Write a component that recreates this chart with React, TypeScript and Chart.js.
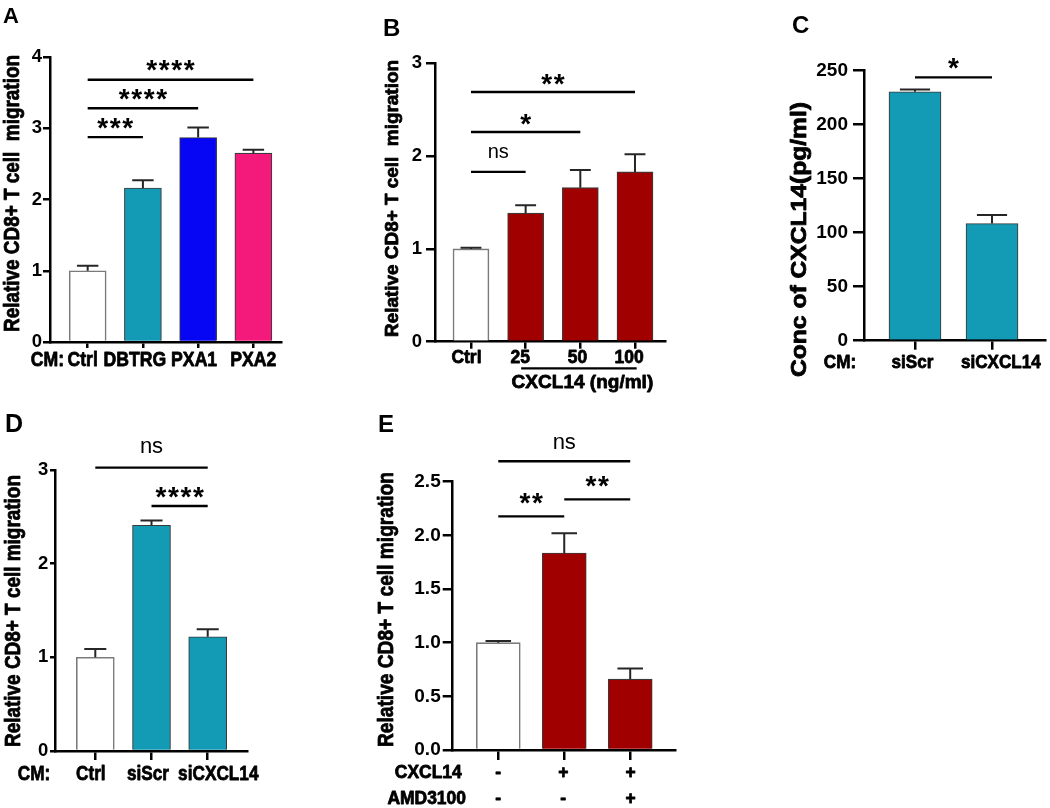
import React, { useEffect, useRef } from 'react';
import { Chart, registerables } from 'chart.js';

Chart.register(...registerables);

// ---------------- Data ----------------
type Sig = [number, number, number, string]; // from category, to category, bar level, label

// Panel A
const aCategories = ['Ctrl', 'DBTRG', 'PXA1', 'PXA2'];
const aMeans = [1.0, 2.16, 2.87, 2.65];
const aErrors = [0.07, 0.11, 0.14, 0.05];
const aSignificance: Sig[] = [
  [0, 1, 2.875, '***'],
  [0, 2, 3.28, '****'],
  [0, 3, 3.68, '****'],
];

// Panel B
const bCategories = ['Ctrl', '25', '50', '100'];
const bMeans = [1.0, 1.385, 1.66, 1.83];
const bErrors = [0.012, 0.085, 0.19, 0.19];
const bSignificance: Sig[] = [
  [0, 1, 1.83, 'ns'],
  [0, 2, 2.26, '*'],
  [0, 3, 2.69, '**'],
];

// Panel C
const cCategories = ['siScr', 'siCXCL14'];
const cMeans = [230.5, 108.5];
const cErrors = [2, 8];
const cSignificance: Sig[] = [[0, 1, 243.8, '*']];

// Panel D
const dCategories = ['Ctrl', 'siScr', 'siCXCL14'];
const dMeans = [1.0, 2.41, 1.22];
const dErrors = [0.09, 0.05, 0.08];
const dSignificance: Sig[] = [
  [0, 2, 3.025, 'ns'],
  [1, 2, 2.616, '****'],
];

// Panel E
const eCXCL14 = ['-', '+', '+'];
const eAMD3100 = ['-', '-', '+'];
const eMeans = [1.0, 1.835, 0.66];
const eErrors = [0.015, 0.185, 0.1];
const eSignificance: Sig[] = [
  [0, 1, 2.177, '**'],
  [1, 2, 2.335, '**'],
  [0, 2, 2.69, 'ns'],
];

// ---------------- Styles ----------------
const WHITE = '#FFFFFF';
const TEAL = '#139AB5';
const BLUE = '#0606F5';
const PINK = '#F41A7C';
const DARKRED = '#A00000';
const FAMILY = '"Liberation Sans", Arial, sans-serif';
const HEAVY = 0.8; // extra stroke to mimic the heavy figure lettering

interface XText { size: number; sx: number; capY: number; dx: number[]; rowGap: number }

interface PanelSpec {
  id: string;
  letter: string;
  letterAt: [number, number];
  letterSize: number;
  box: [number, number, number, number];
  area: [number, number, number, number];
  xRange: [number, number];
  labels: string[][];
  means: number[];
  errors: number[];
  colors: string[];
  barPx: number;
  yMax: number;
  yStep: number;
  yDec: number;
  yTitle: string;
  yTitleAt: [number, number];
  yTitleCap: number;
  yTitleLen: number;
  yTick: { len: number; pad: number; size: number };
  xTickLen: number;
  xText: XText;
  sigs: Sig[];
  starGap: number;
  nsGap: number;
  nsSize: number;
  rowTitles: { text: string; x: number; line: number }[];
  group?: { from: number; to: number; dxFrom: number; dxTo: number; lineY: number; text: string; textY: number; width: number; dxText: number };
}

const panels: PanelSpec[] = [
  {
    id: 'A', letter: 'A', letterAt: [3, 22.7], letterSize: 22,
    box: [0, 0, 292, 392], area: [50, 57, 281, 342], xRange: [-0.682, 3.5],
    labels: aCategories.map((c) => [c]), means: aMeans, errors: aErrors, colors: [WHITE, TEAL, BLUE, PINK],
    barPx: 37, yMax: 4, yStep: 1, yDec: 0,
    yTitle: 'Relative CD8+ T cell  migration', yTitleAt: [11.7, 193.5], yTitleCap: 15, yTitleLen: 277,
    yTick: { len: 7, pad: 1, size: 18.5 },
    xTickLen: 6,
    xText: { size: 21, sx: 0.84, capY: 359.2, dx: [-5, -8, -4, 0], rowGap: 0 },
    sigs: aSignificance, starGap: 14, nsGap: 19, nsSize: 20,
    rowTitles: [{ text: 'CM:', x: 47.5, line: 0 }],
  },
  {
    id: 'B', letter: 'B', letterAt: [383, 36], letterSize: 24,
    box: [378, 0, 300, 395], area: [435, 63.3, 665, 341.7], xRange: [-0.658, 3.549],
    labels: bCategories.map((c) => [c]), means: bMeans, errors: bErrors, colors: [WHITE, DARKRED, DARKRED, DARKRED],
    barPx: 36, yMax: 3, yStep: 1, yDec: 0,
    yTitle: 'Relative CD8+ T cell  migration', yTitleAt: [391.7, 198.5], yTitleCap: 13.5, yTitleLen: 277,
    yTick: { len: 9, pad: 4, size: 18.5 },
    xTickLen: 7,
    xText: { size: 19, sx: 0.92, capY: 356.7, dx: [-4.5, -5.4, -2.8, -5.8], rowGap: 0 },
    sigs: bSignificance, starGap: 12.5, nsGap: 19, nsSize: 20,
    rowTitles: [],
    group: { from: 1, to: 3, dxFrom: -4.5, dxTo: 1.7, lineY: 368.3, text: 'CXCL14 (ng/ml)', textY: 381.5, width: 141.6, dxText: 3.5 },
  },
  {
    id: 'C', letter: 'C', letterAt: [792, 33], letterSize: 24,
    box: [786, 0, 264, 395], area: [864, 70.7, 1045, 340.7], xRange: [-0.662, 1.688],
    labels: cCategories.map((c) => [c]), means: cMeans, errors: cErrors, colors: [TEAL, TEAL],
    barPx: 52, yMax: 250, yStep: 50, yDec: 0,
    yTitle: 'Conc of CXCL14(pg/ml)', yTitleAt: [798.3, 239.5], yTitleCap: 16, yTitleLen: 275,
    yTick: { len: 11, pad: 5, size: 19 },
    xTickLen: 9,
    xText: { size: 19, sx: 0.9, capY: 361.5, dx: [-2.5, 8.8], rowGap: 0 },
    sigs: cSignificance, starGap: 14, nsGap: 19, nsSize: 20,
    rowTitles: [{ text: 'CM:', x: 840, line: 0 }],
  },
  {
    id: 'D', letter: 'D', letterAt: [5, 432], letterSize: 25,
    box: [0, 400, 272, 408], area: [55, 470, 247, 751], xRange: [-0.717, 2.699],
    labels: dCategories.map((c) => [c]), means: dMeans, errors: dErrors, colors: [WHITE, TEAL, TEAL],
    barPx: 38, yMax: 3, yStep: 1, yDec: 0,
    yTitle: 'Relative CD8+ T cell migration', yTitleAt: [12.5, 611], yTitleCap: 15, yTitleLen: 272,
    yTick: { len: 5, pad: 1.7, size: 18.5 },
    xTickLen: 9,
    xText: { size: 21, sx: 0.82, capY: 772.5, dx: [-4.5, -3.5, 10.6], rowGap: 0 },
    sigs: dSignificance, starGap: 13, nsGap: 21, nsSize: 22,
    rowTitles: [{ text: 'CM:', x: 34, line: 0 }],
  },
  {
    id: 'E', letter: 'E', letterAt: [378, 432], letterSize: 24,
    box: [372, 400, 318, 408], area: [452.7, 481.7, 675, 750], xRange: [-0.691, 2.679],
    labels: eCXCL14.map((v, i) => [v, eAMD3100[i]]), means: eMeans, errors: eErrors,
    colors: [WHITE, DARKRED, DARKRED],
    barPx: 44, yMax: 2.5, yStep: 0.5, yDec: 1,
    yTitle: 'Relative CD8+ T cell migration', yTitleAt: [385, 609.5], yTitleCap: 15.5, yTitleLen: 275,
    yTick: { len: 10, pad: 2, size: 19 },
    xTickLen: 10,
    xText: { size: 18, sx: 0.97, capY: 771.7, dx: [0, -1, 0.5], rowGap: 25.3 },
    sigs: eSignificance, starGap: 18, nsGap: 18, nsSize: 22,
    rowTitles: [
      { text: 'CXCL14', x: 428.3, line: 0 },
      { text: 'AMD3100', x: 426.7, line: 1 },
    ],
  },
];

// ---------------- Drawing helpers ----------------
function centerBaseline(ctx: CanvasRenderingContext2D, text: string, cy: number) {
  const m = ctx.measureText(text);
  return cy + (m.actualBoundingBoxAscent - m.actualBoundingBoxDescent) / 2;
}

function heavyText(ctx: CanvasRenderingContext2D, text: string, x: number, y: number) {
  ctx.fillText(text, x, y);
  ctx.lineWidth = HEAVY;
  ctx.lineJoin = 'round';
  ctx.strokeText(text, x, y);
}

function drawStars(ctx: CanvasRenderingContext2D, n: number, cx: number, cy: number) {
  ctx.font = `bold 28px ${FAMILY}`;
  ctx.textAlign = 'center';
  ctx.textBaseline = 'alphabetic';
  const base = centerBaseline(ctx, '*', cy);
  const spacing = 12.5;
  for (let k = 0; k < n; k++) {
    ctx.fillText('*', cx + (k - (n - 1) / 2) * spacing, base);
  }
}

// text whose cap-height centre sits on capY, horizontally compressed by sx
function drawScaled(ctx: CanvasRenderingContext2D, text: string, x: number, capY: number, size: number, sx: number) {
  ctx.save();
  ctx.font = `bold ${size}px ${FAMILY}`;
  const capH = ctx.measureText('H').actualBoundingBoxAscent;
  ctx.translate(x, capY + capH / 2);
  ctx.scale(sx, 1);
  ctx.textAlign = 'center';
  ctx.textBaseline = 'alphabetic';
  heavyText(ctx, text, 0, 0);
  ctx.restore();
}

function capRatio(ctx: CanvasRenderingContext2D) {
  ctx.font = `bold 100px ${FAMILY}`;
  return ctx.measureText('H').actualBoundingBoxAscent / 100;
}

function makePlugin(p: PanelSpec) {
  const [bl, bt] = p.box;
  return {
    id: 'annot' + p.id,
    afterDatasetsDraw(chart: any) {
      const ctx: CanvasRenderingContext2D = chart.ctx;
      const ys = chart.scales.y;
      const meta = chart.getDatasetMeta(0);
      ctx.save();
      ctx.strokeStyle = '#262626';
      ctx.lineWidth = 2;
      meta.data.forEach((bar: any, i: number) => {
        const base = ys.getPixelForValue(p.means[i]);
        const top = ys.getPixelForValue(p.means[i] + p.errors[i]);
        const half = bar.width * 0.29;
        ctx.beginPath();
        ctx.moveTo(bar.x, base);
        ctx.lineTo(bar.x, top);
        ctx.moveTo(bar.x - half, top);
        ctx.lineTo(bar.x + half, top);
        ctx.stroke();
      });
      ctx.restore();
    },
    afterDraw(chart: any) {
      const ctx: CanvasRenderingContext2D = chart.ctx;
      const xs = chart.scales.x;
      const ys = chart.scales.y;
      ctx.save();
      ctx.fillStyle = '#000';
      ctx.strokeStyle = '#000';

      // significance bars
      for (const [from, to, level, text] of p.sigs) {
        const x1 = xs.getPixelForValue(from);
        const x2 = xs.getPixelForValue(to);
        const y = ys.getPixelForValue(level);
        ctx.lineWidth = 2.4;
        ctx.beginPath();
        ctx.moveTo(x1, y);
        ctx.lineTo(x2, y);
        ctx.stroke();
        const cx = (x1 + x2) / 2;
        if (text === 'ns') {
          ctx.font = `${p.nsSize}px ${FAMILY}`;
          ctx.textAlign = 'center';
          ctx.textBaseline = 'alphabetic';
          ctx.fillText('ns', cx, centerBaseline(ctx, 'ns', y - p.nsGap));
        } else {
          drawStars(ctx, text.length, cx, y - p.starGap);
        }
      }

      // category labels under the x axis (placed at the scale's category pixels)
      const t = p.xText;
      p.labels.forEach((lines, i) => {
        const x = xs.getPixelForValue(i) + t.dx[i];
        lines.forEach((s, line) => {
          drawScaled(ctx, s, x, t.capY - bt + line * t.rowGap, t.size, t.sx);
        });
      });
      for (const r of p.rowTitles) {
        drawScaled(ctx, r.text, r.x - bl, t.capY - bt + r.line * t.rowGap, t.size, t.sx);
      }

      // grouped label (panel B)
      if (p.group) {
        const g = p.group;
        const xa = xs.getPixelForValue(g.from) + g.dxFrom;
        const xb = xs.getPixelForValue(g.to) + g.dxTo;
        ctx.lineWidth = 2.2;
        ctx.beginPath();
        ctx.moveTo(xa, g.lineY - bt);
        ctx.lineTo(xb, g.lineY - bt);
        ctx.stroke();
        ctx.font = `bold ${t.size}px ${FAMILY}`;
        const w = ctx.measureText(g.text).width;
        drawScaled(ctx, g.text, (xa + xb) / 2 + g.dxText, g.textY - bt, t.size, g.width / w);
      }

      // y-axis title (rotated; cap centre on yTitleAt[0])
      {
        const size = p.yTitleCap / capRatio(ctx);
        ctx.save();
        ctx.font = `bold ${size}px ${FAMILY}`;
        const w = ctx.measureText(p.yTitle).width;
        ctx.translate(p.yTitleAt[0] - bl, p.yTitleAt[1] - bt);
        ctx.rotate(-Math.PI / 2);
        ctx.scale(p.yTitleLen / w, 1);
        ctx.textAlign = 'center';
        ctx.textBaseline = 'alphabetic';
        heavyText(ctx, p.yTitle, 0, p.yTitleCap / 2);
        ctx.restore();
      }

      // panel letter
      ctx.font = `bold ${p.letterSize}px ${FAMILY}`;
      ctx.textAlign = 'left';
      ctx.textBaseline = 'alphabetic';
      ctx.fillText(p.letter, p.letterAt[0] - bl, p.letterAt[1] - bt);
      ctx.restore();
    },
  };
}

function buildConfig(p: PanelSpec): any {
  const [bl, bt, bw, bh] = p.box;
  const [L, T, R, B] = p.area;
  return {
    type: 'bar',
    data: {
      datasets: [
        {
          data: p.means.map((v, i) => ({ x: i, y: v })),
          backgroundColor: p.colors,
          borderColor: p.colors.map((c) => (c === WHITE ? '#7A7A7A' : '#3A3A3A')),
          borderWidth: p.colors.map((c) => (c === WHITE ? 1.6 : 1.1)),
          barThickness: p.barPx,
        },
      ],
    },
    options: {
      responsive: false,
      animation: false,
      events: [],
      layout: { padding: { left: 0, top: T - bt, right: bl + bw - R, bottom: 0 } },
      plugins: { legend: { display: false }, tooltip: { enabled: false } },
      scales: {
        x: {
          type: 'linear',
          min: p.xRange[0],
          max: p.xRange[1],
          offset: false,
          z: 1,
          afterFit: (s: any) => {
            s.height = bt + bh - B;
            s.paddingLeft = 0;
            s.paddingRight = 0;
          },
          afterBuildTicks: (s: any) => {
            s.ticks = p.labels.map((_, i) => ({ value: i }));
          },
          ticks: { display: false, autoSkip: false },
          grid: {
            drawOnChartArea: false,
            drawTicks: true,
            tickLength: p.xTickLen,
            color: '#000',
            lineWidth: 2.5,
            offset: false,
          },
          border: { display: true, color: '#000', width: 2.5 },
        },
        y: {
          type: 'linear',
          min: 0,
          max: p.yMax,
          z: 1,
          afterFit: (s: any) => {
            s.width = L - bl;
            s.paddingTop = 0;
            s.paddingBottom = 0;
          },
          ticks: {
            stepSize: p.yStep,
            padding: p.yTick.pad,
            color: '#000',
            font: { family: FAMILY, size: p.yTick.size, weight: 'bold' },
            callback: (v: number) => Number(v).toFixed(p.yDec),
          },
          grid: {
            drawOnChartArea: false,
            drawTicks: true,
            tickLength: p.yTick.len,
            color: '#000',
            lineWidth: 2.5,
          },
          border: { display: true, color: '#000', width: 2.5 },
        },
      },
    },
    plugins: [makePlugin(p)],
  };
}

function Panel({ spec }: { spec: PanelSpec }) {
  const ref = useRef<HTMLCanvasElement>(null);
  useEffect(() => {
    const chart = new Chart(ref.current as HTMLCanvasElement, buildConfig(spec));
    return () => chart.destroy();
  }, [spec]);
  const [left, top, w, h] = spec.box;
  return (
    <canvas
      ref={ref}
      width={w}
      height={h}
      style={{ position: 'absolute', left, top, width: w, height: h }}
    />
  );
}

export default function App() {
  return (
    <div style={{ position: 'absolute', left: 0, top: 0, width: 1050, height: 808, background: '#fff', overflow: 'hidden' }}>
      {panels.map((p) => (
        <Panel key={p.id} spec={p} />
      ))}
    </div>
  );
}
